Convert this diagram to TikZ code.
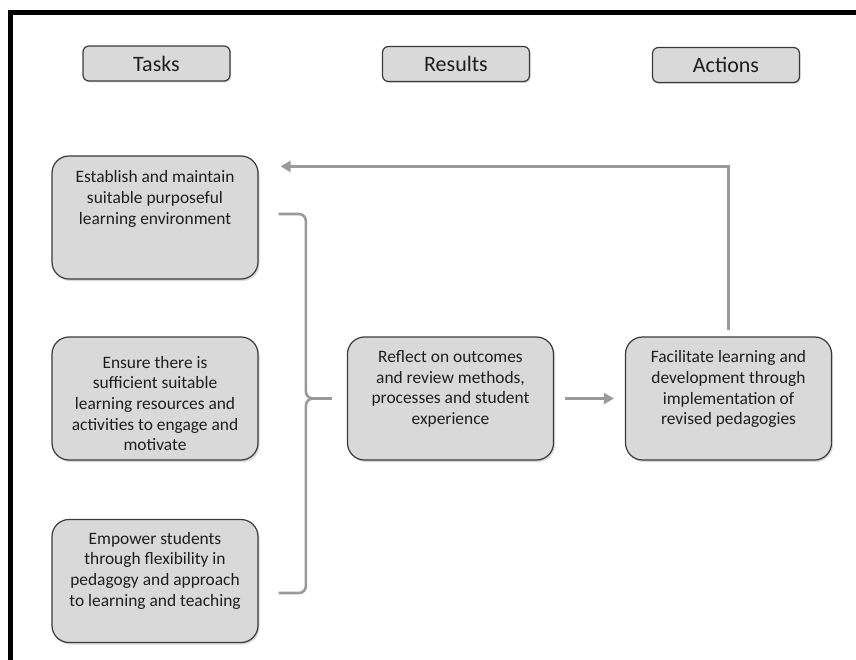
\documentclass[tikz,border=0pt]{standalone}
\usepackage{fontspec}
\setmainfont{Carlito}
\usetikzlibrary{arrows.meta,shadows,calc}
\definecolor{boxfill}{HTML}{D9D9D9}
\definecolor{boxline}{HTML}{3A3A3A}
\definecolor{link}{HTML}{9A9A9A}
\definecolor{ink}{HTML}{1E1E1E}
\begin{document}
\begin{tikzpicture}[x=1pt,y=-1pt,
  card/.style={draw=boxline, line width=1.2pt, fill=boxfill, rounded corners=17pt,
    minimum width=206pt, minimum height=123pt, inner sep=0pt,
    drop shadow={opacity=0.3, shadow xshift=1.5pt, shadow yshift=-2pt}},
  head/.style={draw=boxline, line width=1.2pt, fill=boxfill, rounded corners=6pt,
    minimum width=147pt, minimum height=35pt, inner sep=0pt, text=ink,
    font=\fontsize{22}{26}\selectfont,
    drop shadow={opacity=0.3, shadow xshift=1.2pt, shadow yshift=-1.5pt}},
  txt/.style={align=center, inner sep=0pt, text=ink,
    font=\fontsize{17.4}{20.7}\selectfont},
  link/.style={draw=link, line width=2.6pt},
  tip/.style={-{Triangle[length=10pt,width=11pt]}}
]
\useasboundingbox (0,0) rectangle (856,660);

% frame
\fill[black] (8,10) rectangle (856,15);
\fill[black] (8,10) rectangle (13,660);

% column headings
\node[head] (h1) at (156.5,63.5) {Tasks};
\node[head] (h2) at (456,64) {Results};
\node[head] (h3) at (726,65) {Actions};

% boxes
\node[card] (b1) at (155,217.5) {};
\node[card] (b2) at (155,398.5) {};
\node[card] (b3) at (155,581) {};
\node[card] (mid) at (450.5,398.5) {};
\node[card] (act) at (728.5,398.5) {};

% box texts
\node[txt, anchor=north] (t1) at ($(b1.north)+(0,15)$)
  {Establish and maintain\\suitable purposeful\\learning environment};
\node[txt] (t2) at ($(b2.center)+(0,5)$)
  {Ensure there is\\sufficient suitable\\learning resources and\\activities to engage and\\motivate};
\node[txt, anchor=north] (t3) at ($(b3.north)+(0,13)$)
  {Empower students\\through flexibility in\\pedagogy and approach\\to learning and teaching};
\node[txt, anchor=north] (t4) at ($(mid.north)+(0,14)$)
  {Reflect on outcomes\\and review methods,\\processes and student\\experience};
\node[txt, anchor=north] (t5) at ($(act.north)+(0,14)$)
  {Facilitate learning and\\development through\\implementation of\\revised pedagogies};

% bracket gathering the tasks
\coordinate (bt) at ($(b1.east)+(20,-3.5)$);
\coordinate (bb) at ($(b3.east)+(20,12)$);
\coordinate (btip) at ($(mid.west)+(-15,0)$);
\coordinate (bmid) at ($(btip)+(-26,0)$);
\draw[link, rounded corners=7pt] (bt) -| (bmid) -- (btip);
\draw[link, rounded corners=7pt] (bb) -| (bmid) -- (btip);

% results to actions
\draw[link, tip] ([xshift=11pt]mid.east) -- ([xshift=-11pt]act.west);

% feedback loop
\coordinate (corner) at ($(act.north)+(0,-170)$);
\draw[link, tip] ([yshift=6pt]act.north) -- (corner) -- ([xshift=22pt]b1.east |- corner);
\end{tikzpicture}
\end{document}
